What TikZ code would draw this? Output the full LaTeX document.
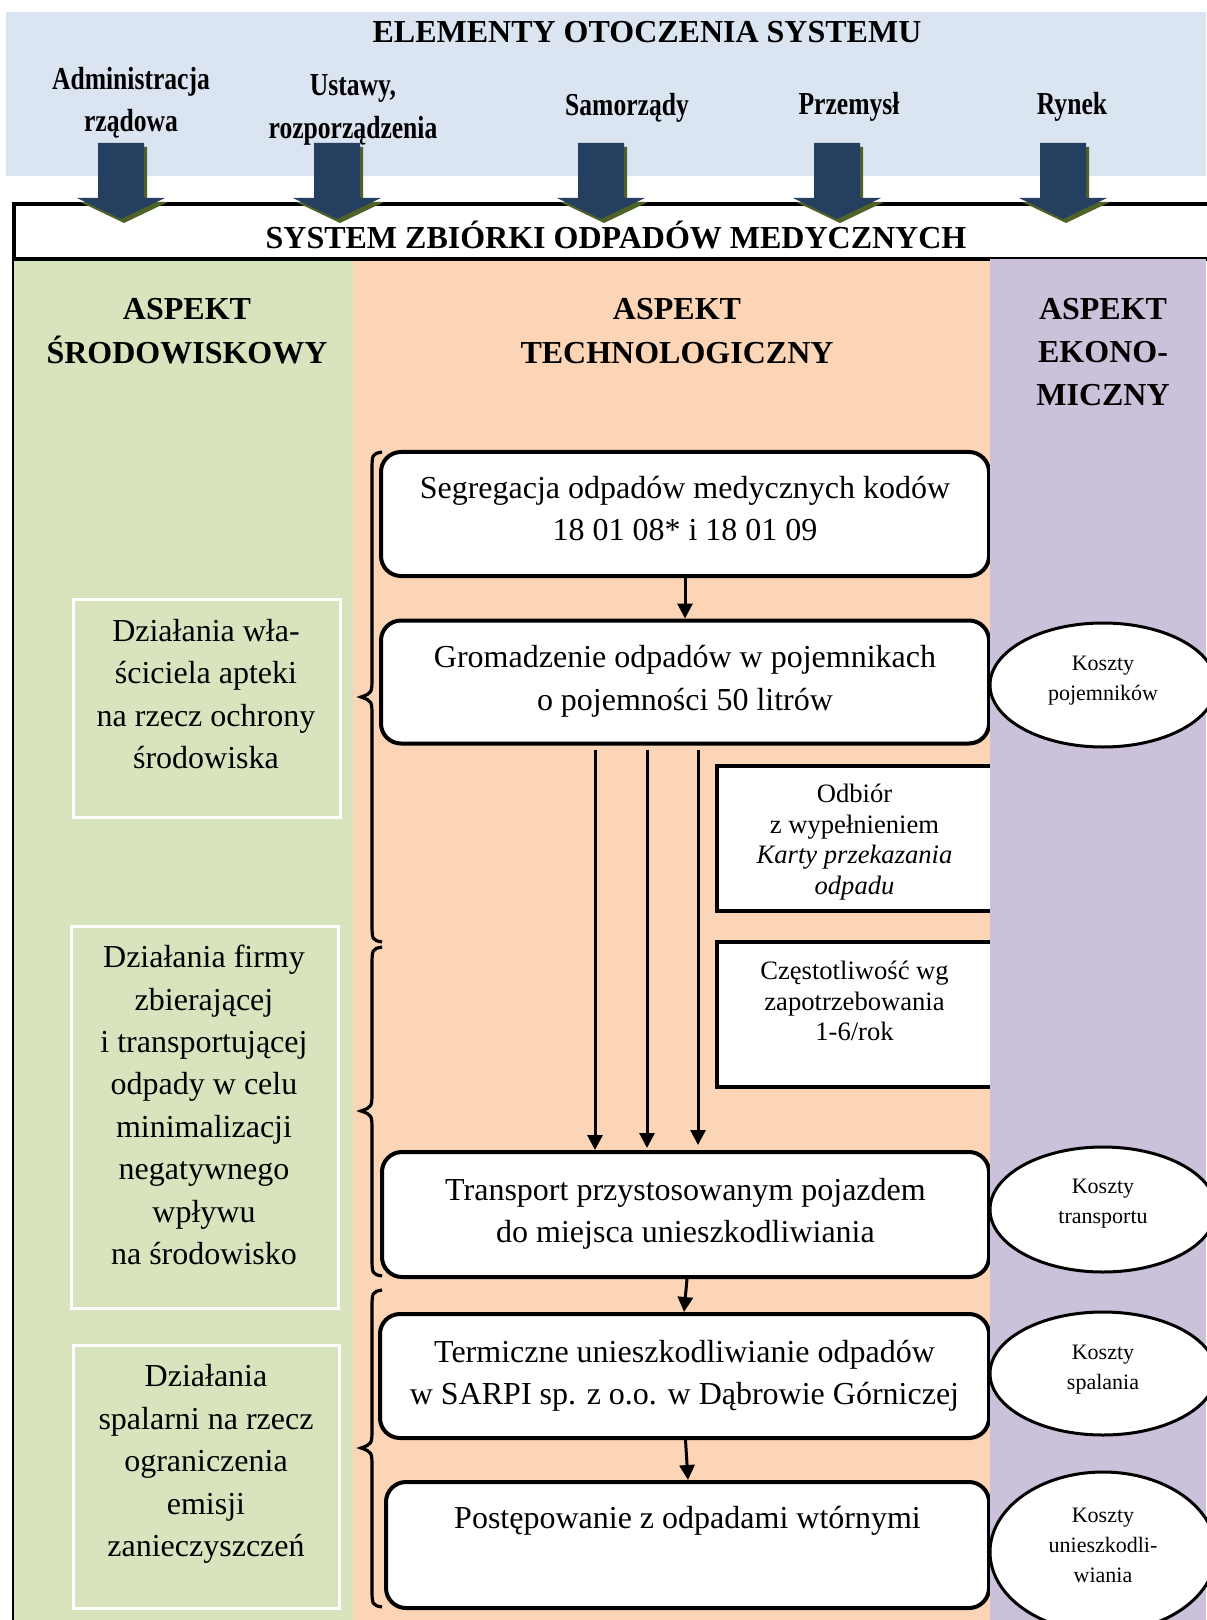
\documentclass[tikz,border=0pt]{standalone}
\usepackage{fontspec}
\setmainfont{Liberation Serif}
\newfontfamily\condfont{Liberation Serif}[FakeStretch=0.8]
\usetikzlibrary{shapes.geometric,arrows.meta}
\definecolor{bandblue}{HTML}{DBE5F1}
\definecolor{colgreen}{HTML}{D7E4BD}
\definecolor{colorange}{HTML}{FBD5B5}
\definecolor{colpurple}{HTML}{CCC1DA}
\definecolor{navyarrow}{HTML}{243F60}
\definecolor{oliveshadow}{HTML}{4F6228}
\newcommand\mybrace[3]{%
  \draw[line width=1.6pt] (382,#1) .. controls (372,#1+2) .. (372,#1+20) -- (372,#2-20) .. controls (372,#2-4) .. (361,#2) .. controls (372,#2+4) .. (372,#2+20) -- (372,#3-20) .. controls (372,#3-2) .. (382,#3);}
\begin{document}
\begin{tikzpicture}[x=0.5pt,y=-0.5pt,
  txt/.style={align=center, inner sep=0pt, font=\fontsize{16}{21.2}\selectfont},
  hdr/.style={align=center, inner sep=0pt, font=\fontsize{16}{21.7}\selectfont\bfseries},
  toplbl/.style={align=center, inner sep=0pt, font=\condfont\bfseries\fontsize{16}{21.2}\selectfont},
  flow/.style={draw, line width=2pt, rounded corners=10pt, fill=white, align=center, inner sep=0pt, font=\fontsize{16}{21.2}\selectfont},
  side/.style={draw, line width=1.6pt, fill=white, align=center, inner sep=0pt, minimum width=137.5pt, minimum height=72.5pt, font=\fontsize{13.3}{15.25}\selectfont},
  cost/.style={ellipse, draw, line width=1.5pt, fill=white, align=center, inner sep=0pt, minimum width=113pt, font=\fontsize{11}{15}\selectfont},
  gbox/.style={draw=white, line width=1.5pt, fill=colgreen},
  arr/.style={line width=1.5pt, -{Triangle[length=7.5pt,width=7.5pt]}},
  sysbox/.style={draw, line width=1.6pt, fill=white},
  ]
\useasboundingbox (0,0) rectangle (1206,1620);
\fill[white] (0,0) rectangle (1206,1620);
% header band
\fill[bandblue] (6,12) rectangle (1206,176);
\node[hdr] (title) at (647,32) {ELEMENTY OTOCZENIA SYSTEMU};
\node[toplbl] (l1) at (131,103) {Administracja\\rządowa};
\node[toplbl] (l2) at (353,110) {Ustawy,\\rozporządzenia};
\node[toplbl] (l3) at (627,108) {Samorządy};
\node[toplbl] (l4) at (849,107) {Przemysł};
\node[toplbl] (l5) at (1072,107) {Rynek};
% columns
\fill[colgreen] (13,259) rectangle (353,1620);
\fill[colorange] (353,259) rectangle (990,1620);
\draw[line width=0.6pt] (13,259) -- (13,1620);
% system box
\node[sysbox, minimum width=600.5pt, minimum height=27.5pt] (sysb) at (614.5,231.5) {};
\node[hdr] (systxt) at (616,235) {SYSTEM ZBIÓRKI ODPADÓW MEDYCZNYCH};
% block arrows
\foreach \c in {121,337,601,837,1063}{
  \fill[oliveshadow, shift={(3,4)}] (\c-23,143) -- (\c+23,143) -- (\c+23,198) -- (\c+44,198) -- (\c,219) -- (\c-44,198) -- (\c-23,198) -- cycle;
  \fill[navyarrow] (\c-23,143) -- (\c+23,143) -- (\c+23,198) -- (\c+44,198) -- (\c,219) -- (\c-44,198) -- (\c-23,198) -- cycle;
}
% column headers
\node[hdr] (h1) at (187,331) {ASPEKT\\ŚRODOWISKOWY};
\node[hdr] (h2) at (677,331) {ASPEKT\\TECHNOLOGICZNY};
% green boxes
\node[gbox, minimum width=133.5pt, minimum height=109pt] (g1) at (206.5,708) {};
\node[txt] (g1t) at (206,694) {Działania wła-\\ściciela apteki\\na rzecz ochrony\\środowiska};
\node[gbox, minimum width=133.5pt, minimum height=191pt] (g2) at (204.5,1117) {};
\node[txt] (g2t) at (204,1105) {Działania firmy\\zbierającej\\i transportującej\\odpady w celu\\minimalizacji\\negatywnego\\wpływu\\na środowisko};
\node[gbox, minimum width=133pt, minimum height=131.5pt] (g3) at (206,1476.5) {};
\node[txt] (g3t) at (206,1464) {Działania\\spalarni na rzecz\\ograniczenia\\emisji\\zanieczyszczeń};
% braces
\mybrace{452}{697}{942}
\mybrace{947}{1111}{1276}
\mybrace{1290}{1448}{1607}
% flow boxes
\node[flow, minimum width=304pt, minimum height=62pt] (b1) at (685,514) {Segregacja odpadów medycznych kodów\\18 01 08* i 18 01 09\\[-15.7pt]\mbox{}};
\node[flow, minimum width=304pt, minimum height=61.5pt] (b2) at (685,682) {Gromadzenie odpadów w pojemnikach\\o pojemności 50 litrów\\[-17pt]\mbox{}};
\node[flow, minimum width=303.5pt, minimum height=62.5pt] (b3) at (685.5,1214.5) {Transport przystosowanym pojazdem\\do miejsca unieszkodliwiania\\[-17pt]\mbox{}};
\node[flow, minimum width=304.5pt, minimum height=62pt] (b4) at (684.5,1376) {Termiczne unieszkodliwianie odpadów\\w SARPI sp. z o.o. w Dąbrowie Górniczej};
\node[flow, minimum width=301.5pt, minimum height=63pt] (b5) at (687.5,1545) {Postępowanie z odpadami wtórnymi\\\strut};
% side boxes
\node[side] (s1) at (854.5,838.5) {\mbox{}\\[-2.4pt]Odbiór\\z wypełnieniem\\\textit{Karty przekazania}\\\textit{odpadu}};
\node[side] (s2) at (854.5,1014.5) {Częstotliwość wg\\zapotrzebowania\\1-6/rok\\[-1.5pt]\mbox{}};
% connectors
\draw[arr] (b1.south) -- (b2.north);
\draw[arr] ([xshift=-45pt,yshift=-2pt]b2.south) -- ([xshift=-45.25pt]b3.north);
\draw[arr] ([xshift=-19pt,yshift=-2pt]b2.south) -- ([xshift=-19.25pt,yshift=1pt]b3.north);
\draw[arr] ([xshift=6.5pt,yshift=-2pt]b2.south) -- ([xshift=6.25pt,yshift=2.5pt]b3.north);
\draw[arr] ([xshift=0.75pt]b3.south) -- ([xshift=-0.25pt]b4.north);
\draw[arr] ([xshift=0.5pt]b4.south) -- ([xshift=0.25pt]b5.north);
% economic column
\fill[colpurple] (990,259) rectangle (1206,1620);
\node[hdr] (h3) at (1103,352) {ASPEKT\\EKONO-\\MICZNY};
\node[cost, minimum height=62pt] (e1) at (1103,685) {Koszty\\pojemników\\[-8.1pt]\mbox{}};
\node[cost, minimum height=62.5pt] (e2) at (1103,1209.5) {Koszty\\transportu\\[-7pt]\mbox{}};
\node[cost, minimum height=61.5pt] (e3) at (1103,1373.5) {Koszty\\spalania\\[-9pt]\mbox{}};
\node[cost, minimum height=80pt] (e4) at (1103,1552) {Koszty\\unieszkodli-\\wiania\\[-8.1pt]\mbox{}};
\end{tikzpicture}
\end{document}
